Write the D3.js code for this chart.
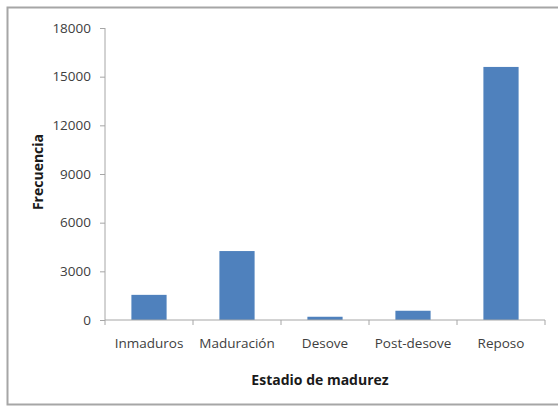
<!DOCTYPE html>
<html>
<head>
<meta charset="utf-8">
<script src="https://cdn.jsdelivr.net/npm/d3@7"></script>
<style>
body { margin: 0; background: #fff; }
text { font-family: "Open Sans", sans-serif; }
</style>
</head>
<body>
<svg id="chart"></svg>
<script>
var categories = ["Inmaduros", "Maduración", "Desove", "Post-desove", "Reposo"]
var frecuencia = [1550, 4250, 200, 570, 15600]
var yTicks = [0, 3000, 6000, 9000, 12000, 15000, 18000]

var width = 558, height = 406
var svg = d3.select("#chart")
    .attr("width", width)
    .attr("height", height)

// outer frame (right side is cut off in the picture)
svg.append("path")
    .attr("d", "M" + width + ",7.5H7.5V404.5H" + width)
    .attr("fill", "none")
    .attr("stroke", "#a6a6a6")
    .attr("stroke-width", 2)

var x = d3.scaleBand()
    .domain(categories)
    .range([105, 545])
    .paddingInner(0.6)
    .paddingOuter(0.3)

var y = d3.scaleLinear()
    .domain([0, 18000])
    .range([320, 28])

svg.selectAll("rect.bar")
    .data(frecuencia)
    .enter()
    .append("rect")
        .attr("class", "bar")
        .attr("x", function (d, i) { return x(categories[i]) })
        .attr("width", x.bandwidth())
        .attr("y", function (d) { return y(d) })
        .attr("height", function (d) { return y(0) - y(d) })
        .attr("fill", "#4f81bd")

var yAxis = svg.append("g")
    .attr("transform", "translate(105,0)")
    .call(d3.axisLeft(y).tickValues(yTicks).tickSize(5).tickPadding(9).tickFormat(d3.format("d")))
yAxis.selectAll("line, path").attr("stroke", "#a6a6a6")
yAxis.selectAll("text").attr("fill", "#404040").style("font-size", "13.5px")
yAxis.select(".domain").attr("d", "M0,28V320")

// x axis: ticks sit on category boundaries
var xb = d3.scaleLinear().domain([0, categories.length]).range([105, 545])
var xAxis = svg.append("g")
    .attr("transform", "translate(0,320)")
xAxis.append("line")
    .attr("x1", 105).attr("x2", 545)
    .attr("stroke", "#a6a6a6")
xAxis.selectAll("line.tick")
    .data(d3.range(categories.length + 1))
    .enter()
    .append("line")
        .attr("class", "tick")
        .attr("x1", function (d) { return xb(d) })
        .attr("x2", function (d) { return xb(d) })
        .attr("y1", 0).attr("y2", 5)
        .attr("stroke", "#a6a6a6")
xAxis.selectAll("text")
    .data(categories)
    .enter()
    .append("text")
        .attr("x", function (d) { return x(d) + x.bandwidth() / 2 })
        .attr("y", 28)
        .attr("text-anchor", "middle")
        .attr("fill", "#404040")
        .style("font-size", "13.5px")
        .text(function (d) { return d })

svg.append("text")
    .attr("x", 320).attr("y", 385)
    .attr("text-anchor", "middle")
    .style("font-size", "14px")
    .style("font-weight", "bold")
    .attr("fill", "#1a1a1a")
    .text("Estadio de madurez")

svg.append("text")
    .attr("transform", "translate(43,172) rotate(-90)")
    .attr("text-anchor", "middle")
    .style("font-size", "14px")
    .style("font-weight", "bold")
    .attr("fill", "#1a1a1a")
    .text("Frecuencia")
</script>
</body>
</html>
